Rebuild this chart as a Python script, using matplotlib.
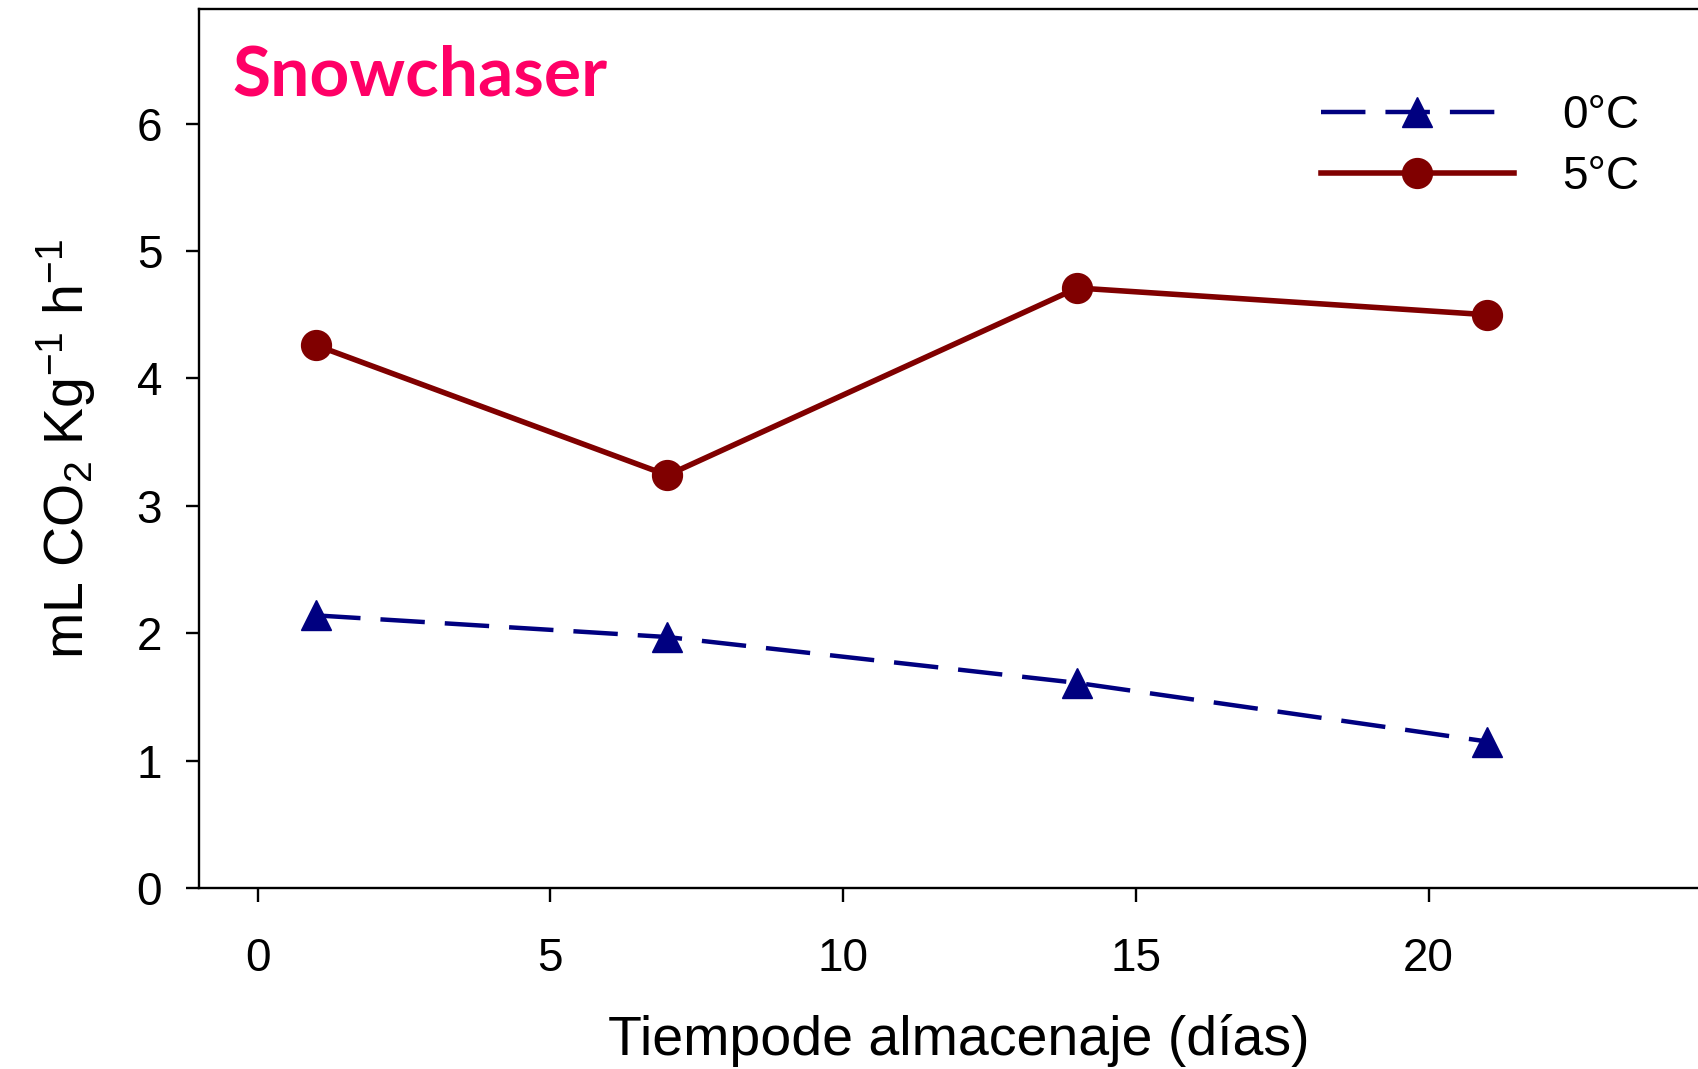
import numpy as np
import matplotlib
matplotlib.use("Agg")
import matplotlib.pyplot as plt

plt.rcParams['font.family'] = ['Liberation Sans', 'DejaVu Sans']
plt.rcParams['mathtext.default'] = 'regular'

# respiration rate (mL CO2 / kg / h) vs storage days
dias = [1, 7, 14, 21]
temp_0 = [2.14, 1.97, 1.61, 1.15]
temp_5 = [4.26, 3.24, 4.71, 4.50]
labels = ["0°C", "5°C"]

fig = plt.figure(figsize=(16.98, 10.69), dpi=100)
ax = fig.add_axes([0.1172, 0.1693, 0.8828, 0.8223])

ax.plot(dias, temp_0, color="#000080", lw=3.2, dashes=(10, 4.5),
        marker="^", markersize=22, label=labels[0])
ax.plot(dias, temp_5, color="#800000", lw=4,
        marker="o", markersize=21.5, label=labels[1])

ax.set_xlim(-1, 24.6)
ax.set_ylim(0, 6.9)
ax.set_xticks([0, 5, 10, 15, 20])
ax.set_yticks([0, 1, 2, 3, 4, 5, 6])

ax.spines["right"].set_visible(False)
for s in ["left", "bottom", "top"]:
    ax.spines[s].set_linewidth(1.7)
ax.tick_params(axis="x", length=10, width=1.7, pad=25, labelsize=33)
ax.tick_params(axis="y", length=9.5, width=1.7, pad=17, labelsize=33)

ax.set_xlabel("Tiempode almacenaje (días)", fontsize=40, labelpad=24)
ax.xaxis.label.set_x(0.507)
ax.set_ylabel("mL CO$_2$ Kg$^{-1}$ h$^{-1}$", fontsize=40, labelpad=28)

fig.text(0.137, 0.911, "Snowchaser", color="#FF0066", fontsize=50,
         fontweight="bold", family="Lato", va="baseline")

ax.legend(loc="upper left", bbox_to_anchor=(1321 / 1698, 0.912),
          bbox_transform=fig.transFigure, frameon=False, fontsize=33,
          handlelength=4.2, handletextpad=1.07, labelspacing=0.37,
          borderpad=0, borderaxespad=0, numpoints=1)

fig.savefig("out.png", dpi=100)
